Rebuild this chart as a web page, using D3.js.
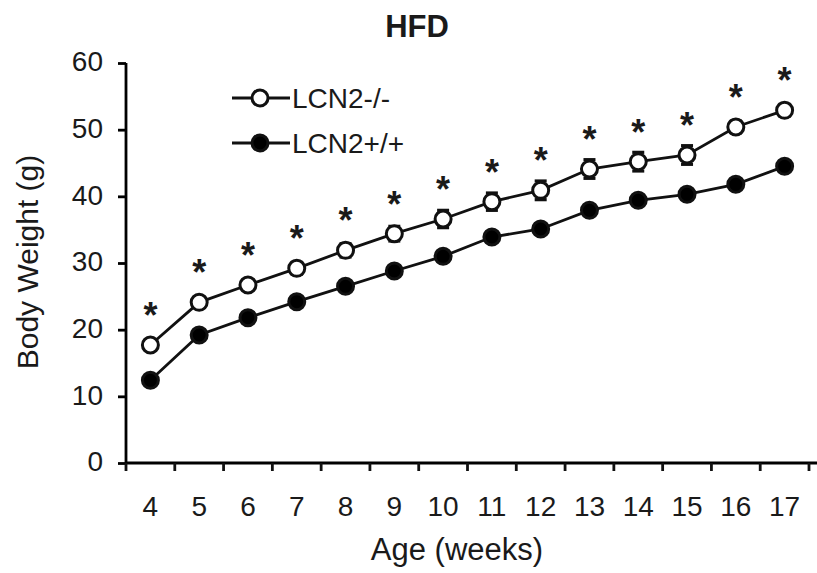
<!DOCTYPE html>
<html>
<head>
<meta charset="utf-8">
<script src="https://cdn.jsdelivr.net/npm/d3@7"></script>
<style>
  body { margin: 0; background: #fff; }
  text { font-family: "Liberation Sans", Arial, sans-serif; fill: #1a1a1a; }
</style>
</head>
<body>
<div id="chart"></div>
<script>
const weeks = [4, 5, 6, 7, 8, 9, 10, 11, 12, 13, 14, 15, 16, 17];
const koWeight = [17.7, 24.1, 26.7, 29.2, 31.9, 34.4, 36.6, 39.2, 40.9, 44.1, 45.2, 46.2, 50.4, 52.9];
const koError = [0.5, 0.6, 0.7, 0.9, 1.0, 1.1, 1.3, 1.3, 1.4, 1.4, 1.4, 1.4, 0.9, 0.9];
const wtWeight = [12.4, 19.2, 21.8, 24.2, 26.5, 28.8, 31.0, 33.9, 35.1, 37.9, 39.4, 40.3, 41.8, 44.5];
const wtError = [0.4, 0.5, 0.5, 0.6, 0.6, 0.6, 0.7, 0.7, 0.7, 0.7, 0.7, 0.7, 0.7, 0.7];
const yTicks = [0, 10, 20, 30, 40, 50, 60];
const seriesNames = ['LCN2-/-', 'LCN2+/+'];

const WIDTH = 817;
const HEIGHT = 573;
const LEFT = 126;
const RIGHT = 809;
const TOP = 63;
const BOTTOM = 463;

const svg = d3.create('svg').attr('width', WIDTH).attr('height', HEIGHT);

const xScale = d3.scaleBand().domain(weeks).range([LEFT, RIGHT]);
const yScale = d3.scaleLinear().domain([0, 60]).range([BOTTOM, TOP]);
const xCenter = (w) => xScale(w) + xScale.bandwidth() / 2;

// axes
const axisLeft = d3.axisLeft(yScale).tickValues(yTicks).tickSize(8).tickPadding(15);
const axisBottom = d3.axisBottom(xScale).tickSize(0);

const gy = svg.append('g').attr('transform', `translate(${LEFT}, 0)`).call(axisLeft);
gy.select('.domain').attr('d', `M0,${TOP}V${BOTTOM}`).attr('stroke-width', 2.8);
gy.selectAll('.tick line').attr('stroke-width', 2.8);
gy.selectAll('.tick text')
  .style('font-size', '28px')
  .attr('fill', '#1a1a1a')
  .attr('dy', '0.28em');

const gx = svg.append('g').attr('transform', `translate(0, ${BOTTOM})`).call(axisBottom);
gx.select('.domain').attr('d', `M${LEFT},0H${WIDTH}`).attr('stroke-width', 2.8);
gx.selectAll('.tick text')
  .style('font-size', '28px')
  .attr('fill', '#1a1a1a')
  .attr('y', 53)
  .attr('dy', 0);
gx.selectAll('.boundary')
  .data(d3.range(weeks.length + 1))
  .join('line')
  .attr('x1', (i) => LEFT + i * xScale.step())
  .attr('x2', (i) => LEFT + i * xScale.step())
  .attr('y1', 0)
  .attr('y2', 8)
  .attr('stroke', '#111')
  .attr('stroke-width', 2.8);

// labels
svg.append('text')
  .attr('x', 417).attr('y', 37)
  .attr('text-anchor', 'middle')
  .style('font-size', '31px').style('font-weight', 'bold')
  .text('HFD');

svg.append('text')
  .attr('transform', 'translate(38, 262) rotate(-90)')
  .attr('text-anchor', 'middle')
  .style('font-size', '30px')
  .text('Body Weight (g)');

svg.append('text')
  .attr('x', 457).attr('y', 560)
  .attr('text-anchor', 'middle')
  .style('font-size', '31px')
  .text('Age (weeks)');

const line = d3.line().x((d) => xCenter(d.week)).y((d) => yScale(d.value));

const series = [
  { name: seriesNames[1], values: wtWeight, errors: wtError, fill: '#000' },
  { name: seriesNames[0], values: koWeight, errors: koError, fill: '#fff' },
];

series.forEach((s) => {
  const data = weeks.map((week, i) => ({ week, value: s.values[i], error: s.errors[i] }));
  const g = svg.append('g');

  g.append('path')
    .datum(data)
    .attr('d', line)
    .attr('fill', 'none')
    .attr('stroke', '#111')
    .attr('stroke-width', 2.8);

  const bars = g.selectAll('.err').data(data).join('g');
  bars.append('line')
    .attr('x1', (d) => xCenter(d.week)).attr('x2', (d) => xCenter(d.week))
    .attr('y1', (d) => yScale(d.value + d.error)).attr('y2', (d) => yScale(d.value - d.error))
    .attr('stroke', '#111').attr('stroke-width', 2.8);
  [1, -1].forEach((sign) => {
    bars.append('line')
      .attr('x1', (d) => xCenter(d.week) - 6).attr('x2', (d) => xCenter(d.week) + 6)
      .attr('y1', (d) => yScale(d.value + sign * d.error))
      .attr('y2', (d) => yScale(d.value + sign * d.error))
      .attr('stroke', '#111').attr('stroke-width', 3.2);
  });

  g.selectAll('circle')
    .data(data)
    .join('circle')
    .attr('cx', (d) => xCenter(d.week))
    .attr('cy', (d) => yScale(d.value))
    .attr('r', 8)
    .attr('fill', s.fill)
    .attr('stroke', '#111')
    .attr('stroke-width', 3);
});

// significance stars above LCN2-/-
svg.selectAll('.star')
  .data(weeks.map((week, i) => ({ week, value: koWeight[i] })))
  .join('text')
  .attr('x', (d) => xCenter(d.week))
  .attr('y', (d) => yScale(d.value) - 17)
  .attr('text-anchor', 'middle')
  .style('font-size', '36px')
  .style('font-weight', 'bold')
  .text('*');

// legend
const legend = svg.append('g');
[[seriesNames[0], '#fff', 98], [seriesNames[1], '#000', 143]].forEach(([name, fill, y]) => {
  legend.append('line')
    .attr('x1', 232).attr('x2', 290).attr('y1', y).attr('y2', y)
    .attr('stroke', '#111').attr('stroke-width', 2.8);
  legend.append('circle')
    .attr('cx', 260).attr('cy', y).attr('r', 8)
    .attr('fill', fill).attr('stroke', '#111').attr('stroke-width', 3);
  legend.append('text')
    .attr('x', 292).attr('y', y + 10)
    .style('font-size', '28px')
    .attr('fill', '#1a1a1a')
    .text(name);
});

document.getElementById('chart').appendChild(svg.node());
</script>
</body>
</html>
